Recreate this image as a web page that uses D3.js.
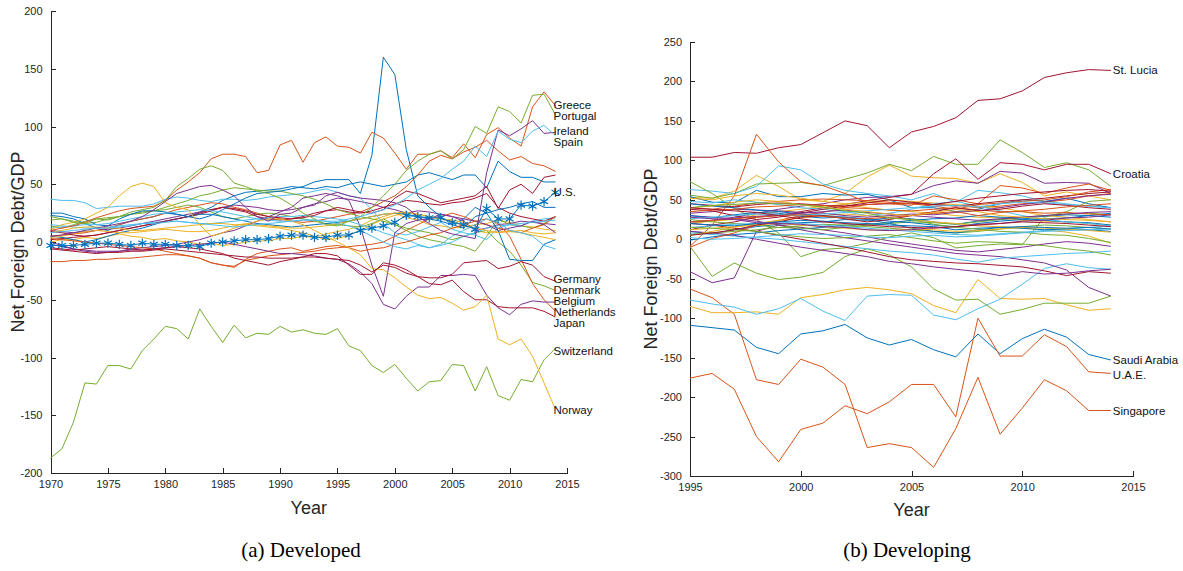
<!DOCTYPE html>
<html>
<head>
<meta charset="utf-8">
<title>Net Foreign Debt/GDP</title>
<script src="https://cdn.jsdelivr.net/npm/d3@7"></script>
<style>
  body { margin: 0; background: #fff; }
  svg { display: block; font-family: 'Liberation Sans', Arial, Helvetica, sans-serif; }
  .axis path, .axis line { stroke: #262626; shape-rendering: crispEdges; }
  .axis text { fill: #262626; font-size: 11px; }
  .series { fill: none; stroke-width: 1; }
  .marker { fill: none; stroke-width: 1.2; }
  .label { font-size: 11.5px; fill: #111; }
  .title { font-size: 18px; fill: #262626; }
  .caption { font-family: 'Liberation Serif', 'DejaVu Serif', serif; font-size: 21px; fill: #000; }
</style>
</head>
<body>
<div id="main"></div>
<script>
'use strict';
// - - - - - - - - - -

// data: developed, 1970-2014
const devFirstYear = 1970;
const devXTicks = [1970, 1975, 1980, 1985, 1990, 1995, 2000, 2005, 2010, 2015];
const devYTicks = [-200, -150, -100, -50, 0, 50, 100, 150, 200];

// plotting order follows the colour cycle (blue, orange, yellow, purple, green, light blue, dark red)
const devNames = [
  '', '', '', '', '', '', '',
  '', '', '', '', 'Denmark', '', '',
  '', 'Netherlands', '', 'Belgium', 'Switzerland', '', 'Japan',
  'U.S.', 'Greece', 'Norway', 'Ireland', 'Portugal', 'Spain', 'Germany'
];

const devValues = [
  // round 1
  [23,22,20,16,12, 10,15,18,20,22, 25,24,22,26,30, 36,40,43,44,45, 46,48,47,46,48, 47,50,52,50,48, 50,52,58,60,57, 54,58,58,47,70, 61,56,56,52,52],
  [5,6,7,8,10, 12,15,18,20,22, 25,28,30,32,34, 33,30,28,25,22, 20,18,17,18,20, 22,24,26,30,35, 40,48,58,70,75, 72,78,82,88,79, 71,74,68,66,61],
  [0,2,2,4,3, 5,7,5,4,2, 3,1,0,-2,-1, -3,-2,0,1,1, 3,3,5,4,7, 9,11,14,19,22, 25,21,19,15,14, 12,13,15,16,19, 17,14,13,11,10],
  [10,9,8,9,10, 11,12,14,16,18, 20,22,24,26,28, 30,32,31,30,28, 27,28,30,33,35, 38,37,35,33,30, 28,25,27,26,24, 22,18,10,12,15, 16,18,17,16,15],
  [14,12,15,18,20, 21,22,24,25,27, 28,30,32,30,26, 22,20,22,24,25, 24,22,20,18,16, 15,14,13,16,20, 15,10,5,2,0, -2,-4,-8,5,20, 15,14,12,16,22],
  [37,36,36,34,29, 30,31,31,31,33, 37,39,38,36,35, 37,37,36,37,39, 40,41,42,44,46, 43,40,38,28,16, 8,6,9,13,17, 11,8,6,2,12, 15,14,18,20,21],
  [2,3,4,5,6, 8,10,12,14,16, 18,20,22,24,27, 30,28,26,22,20, 19,20,22,25,27, 28,26,25,27,30, 33,36,35,33,32, 34,35,38,42,30, 25,22,20,18,22],
  // round 2
  [5,4,2,0,2, 5,8,10,12,15, 18,20,22,24,24, 22,20,18,16,15, 14,13,14,15,16, 17,18,20,22,24, 25,24,22,20,18, 15,20,30,25,28, 30,33,35,30,30],
  [-17,-17,-16,-16,-15, -15,-14,-14,-13,-12, -11,-11,-12,-14,-18, -20,-21,-16,-14,-12, -11,-10,-9,-8,-6, -5,-4,-3,-2,0, 5,10,15,20,22, 25,22,18,15,12, 10,8,12,15,22],
  [4,5,7,9,10, 9,8,8,9,10, 11,10,9,9,10, 12,14,16,15,14, 13,12,12,13,14, 16,18,20,22,24, 25,26,24,22,20, 19,17,10,8,9, 9,10,8,7,8],
  [0,-3,-6,-8,-9, -9,-8,-6,-5,-4, -3,-2,0,2,5, 8,10,14,18,22, 26,30,38,40,42, 40,36,13,-20,-47, 8,16,19,20,24, 22,20,18,15,10, 12,14,18,15,8],
  [22,20,18,16,17, 20,22,24,26,27, 30,33,36,40,42, 45,47,46,45,44, 44,42,40,37,33, 28,25,22,20,18, 15,12,10,8,5, 2,5,8,10,0, -8,-20,-35,-38,-42],
  [15,14,13,12,12, 13,14,15,16,17, 18,18,17,16,16, 17,18,19,20,21, 22,22,23,22,21, 20,18,15,12,8, 5,2,-2,-5,-3, 0,5,8,12,14, 15,16,17,18,19],
  [9,8,6,5,6, 8,10,12,14,16, 18,20,22,25,28, 30,29,27,24,22, 21,20,21,23,27, 30,28,26,25,28, 38,44,42,38,34, 36,38,40,48,29, 45,50,42,56,58],
  // round 3
  [25,25,22,20,15, 14,20,24,27,27, 26,24,22,20,23, 28,33,38,42,43, 44,46,48,52,54, 54,54,42,75,160, 145,80,40,30,22, 15,12,22,25,10, -15,-16,-16,-2,2],
  [3,2,1,0,-1, -2,-3,-4,-5,-6, -8,-10,-12,-14,-18, -20,-22,-15,-10,-8, -6,-5,-8,-6,-4, -3,-5,-8,-6,-5, -2,0,3,6,8, 12,15,18,20,16, 5,-15,-36,-50,-60],
  [8,10,12,13,13, 12,12,10,10,11, 12,13,14,15,16, 16,15,15,14,13, 12,10,8,5,2, 3,6,10,15,20, 23,25,24,22,20, 18,14,12,10,8, 9,8,6,4,2],
  [-2,-4,-6,-7,-8, -8,-8,-7,-7,-6, -5,-4,-3,-2,-1, 0,-2,-4,-6,-8, -10,-10,-11,-12,-14, -15,-19,-26,-36,-54, -58,-47,-39,-39,-29, -29,-28,-29,-46,-57, -63,-54,-51,-52,-52],
  [-187,-179,-156,-122,-123, -107,-107,-110,-94,-84, -73,-75,-84,-58,-73, -87,-72,-83,-79,-80, -73,-78,-76,-79,-80, -75,-90,-94,-107,-113, -106,-118,-129,-121,-120, -106,-107,-129,-108,-133, -137,-119,-121,-102,-92],
  [12,13,14,15,15, 16,18,20,22,24, 25,26,27,28,27, 26,24,22,20,19, 18,18,19,19,18, 16,14,10,5,0, -4,-6,-3,-5,-2, 5,10,15,20,17, 10,8,5,-3,-6],
  [-5,-6,-7,-6,-5, -4,-5,-6,-7,-6, -5,-4,-5,-6,-8, -10,-14,-16,-18,-20, -17,-15,-13,-10,-10, -12,-20,-28,-28,-18, -20,-24,-30,-36,-37, -33,-43,-50,-50,-56, -57,-57,-57,-60,-65],
  // round 4
  [-3,-3,-3,-2,-1, -1,-2,-3,-1,-2, -2,-3,-3,-4,-1, 0,1,2,2,3, 5,6,6,4,4, 6,6,10,12,14, 17,23,22,21,21, 17,15,11,29,20, 20,32,31,35,43],
  [10,12,14,17,21, 24,27,29,30,31, 36,45,52,60,72, 76,76,74,60,62, 84,88,69,86,91, 83,82,77,95,90, 77,63,76,76,79, 73,85,73,93,99, 90,83,117,130,118],
  [11,15,17,20,25, 30,40,48,51,48, 34,30,28,15,5, 8,12,15,18,20, 20,18,15,10,5, 0,-5,-11,-23,-24, -31,-39,-46,-49,-48, -53,-59,-56,-46,-84, -89,-84,-99,-122,-145],
  [5,6,8,10,12, 14,16,18,22,28, 35,42,45,48,49, 45,40,30,22,18, 24,25,30,32,40, 43,40,38,37,36, 34,30,22,16,10, 7,5,3,60,97, 92,98,105,94,95],
  [19,20,17,16,20, 19,22,26,28,30, 36,48,55,63,66, 62,51,48,44,42, 38,32,25,20,15, 14,18,22,30,40, 50,62,70,76,79, 72,80,100,94,117, 113,103,127,128,110],
  [8,9,10,11,12, 12,13,14,16,16, 17,18,17,16,15, 14,13,14,15,16, 17,18,19,19,18, 18,20,22,25,28, 32,38,45,50,55, 63,70,83,74,96, 89,86,96,101,92],
  [-6,-7,-8,-9,-10, -9,-9,-8,-8,-7, -6,-7,-8,-9,-10, -11,-12,-13,-13,-14, -14,-14,-13,-13,-14, -15,-16,-20,-26,-20, -22,-27,-30,-31,-31, -28,-18,-17,-16,-23, -21,-17,-20,-30,-34]
];

// data: developing, 1995-2014
const dvgFirstYear = 1995;
const dvgXTicks = [1995, 2000, 2005, 2010, 2015];
const dvgYTicks = [-300, -250, -200, -150, -100, -50, 0, 50, 100, 150, 200, 250];

const dvgNames = [
  'Saudi Arabia', 'U.A.E.', '', '', '', '', 'St. Lucia',
  '', 'Singapore', '', '', '', '', 'Croatia',
  '', '', '', '', '', '', '',
  '', '', '', '', '', '', '',
  '', '', '', '', '', '', '',
  '', '', '', '', '', '', '',
  '', '', '', '', '', '', ''
];

const dvgValues = [
  // round 1
  [-109,-112,-115,-137,-145,-120,-116,-108,-125,-134,-127,-140,-149,-120,-145,-126,-114,-124,-146,-153],
  [-176,-170,-190,-250,-282,-241,-233,-211,-221,-206,-184,-184,-225,-100,-148,-148,-121,-136,-168,-170],
  [53,52,61,81,67,50,48,58,79,94,80,78,77,71,83,72,55,60,55,50],
  [20,24,28,33,38,42,45,50,53,54,57,68,74,71,86,84,71,72,71,58],
  [56,52,58,70,71,72,68,76,84,95,87,105,95,95,126,110,91,97,88,67],
  [63,61,58,67,93,88,70,62,58,55,50,58,47,62,59,55,48,45,42,40],
  [104,104,110,109,116,120,135,150,144,116,136,143,154,176,178,188,205,211,215,214],
  // round 2
  [54,47,46,62,54,54,58,56,57,50,40,40,35,38,45,50,48,52,45,40],
  [-63,-74,-95,-178,-184,-152,-162,-184,-264,-259,-264,-289,-240,-175,-247,-214,-178,-192,-217,-217],
  [-85,-93,-93,-92,-95,-74,-70,-64,-61,-64,-69,-84,-93,-51,-75,-76,-75,-83,-90,-88],
  [-41,-55,-49,10,18,15,12,8,3,-2,-6,-10,-14,-16,-13,-10,-6,-3,-5,-9],
  [73,58,39,25,8,-22,-13,-11,-5,3,8,2,-11,-8,-6,-7,28,35,48,50],
  [-77,-82,-86,-95,-88,-75,-91,-103,-72,-70,-71,-96,-102,-88,-76,-57,-37,-31,-36,-38],
  [12,18,22,28,30,35,40,44,49,53,57,83,102,76,97,95,88,95,95,83],
  // round 3
  [10,7,12,16,19,21,22,25,24,27,26,22,19,23,25,27,29,31,30,28],
  [-9,18,55,133,98,73,68,58,47,45,43,55,50,45,68,65,58,65,70,62],
  [20,23,25,31,35,38,42,44,40,37,35,33,30,28,27,24,23,22,20,18],
  [30,28,26,23,18,12,7,2,-2,-6,-10,-14,-18,-20,-22,-26,-30,-39,-61,-72],
  [-9,-47,-30,-43,-51,-48,-42,-22,-12,-20,-35,-63,-77,-76,-95,-89,-81,-81,-81,-72],
  [8,6,4,2,0,-3,-6,-9,-12,-15,-17,-20,-25,-29,-24,-22,-20,-18,-17,-15],
  [20,18,14,10,5,0,-5,-10,-16,-22,-26,-28,-30,-31,-33,-35,-40,-46,-41,-43],
  // round 4
  [-1,3,6,8,11,13,15,18,19,21,24,26,27,30,28,27,24,22,21,18],
  [40,38,42,46,48,50,51,50,49,47,45,44,43,40,42,45,47,50,55,58],
  [52,50,55,58,56,52,48,45,47,50,48,46,44,42,40,35,30,28,25,22],
  [10,8,5,0,-5,-10,-14,-18,-22,-28,-31,-35,-38,-41,-46,-41,-44,-43,-40,-38],
  [25,22,20,18,15,14,12,15,18,20,22,21,19,22,25,28,30,32,33,31],
  [48,46,50,47,44,40,38,35,30,33,38,45,48,42,36,30,25,22,20,17],
  [45,43,41,44,46,45,43,42,44,45,46,44,42,45,48,50,52,55,58,60],
  // round 5
  [30,27,31,34,33,29,27,28,26,23,21,18,16,20,23,25,26,27,30,33],
  [-10,1,8,18,24,30,34,40,44,46,45,42,38,44,46,48,50,54,60,63],
  [5,10,15,20,24,27,30,32,30,27,25,22,20,17,16,14,12,9,4,-5],
  [33,35,38,37,36,34,33,30,28,30,32,31,34,36,40,44,47,52,55,57],
  [6,8,10,12,15,17,19,18,16,14,12,10,8,10,13,16,18,17,15,13],
  [15,17,19,20,22,20,18,16,14,12,10,8,6,5,7,9,11,13,15,17],
  [38,36,30,25,28,33,38,42,46,50,47,44,48,52,55,58,60,62,63,61],
  // round 6
  [45,42,40,37,35,32,30,28,25,20,14,10,8,12,15,14,12,13,12,10],
  [35,37,38,41,42,44,43,40,39,37,36,38,40,37,35,35,33,34,32,31],
  [12,14,16,18,20,18,16,14,12,11,13,12,10,11,13,15,14,13,11,9],
  [22,24,27,29,31,33,35,37,34,32,30,28,26,24,26,28,30,32,34,35],
  [15,14,12,10,6,3,1,2,4,6,2,-2,-5,-3,-4,-6,-8,-12,-15,-20],
  [26,28,30,32,31,30,32,34,36,38,40,42,43,41,45,47,46,44,42,40],
  [5,8,12,18,22,28,30,26,22,25,30,35,40,36,38,42,45,43,40,38],
  // round 7
  [20,18,17,20,22,24,23,21,20,18,17,16,12,14,15,16,15,14,15,13],
  [22,24,26,28,30,31,29,27,26,28,30,33,35,30,34,36,38,41,43,45],
  [40,42,47,50,48,44,40,38,35,32,30,34,38,35,30,28,26,25,24,22],
  [28,26,25,21,20,19,16,15,12,11,12,15,16,19,20,23,24,27,28,31],
  [40,43,44,46,45,44,41,36,33,27,25,19,15,13,10,9,6,5,1,-4],
  [2,0,1,3,5,7,6,5,3,2,4,5,3,4,6,8,10,11,12,13],
  [40,38,36,34,30,26,22,20,18,16,15,14,16,18,20,22,21,20,18,16]
];

// configuration
let
  svg = undefined,
  canvas = {},
  panels = {},
  labelAt = {};

const colors = ['#0072BD', '#D95319', '#EDB120', '#7E2F8E', '#77AC30', '#4DBEEE', '#A2142F'];

canvas = {
  context: '#main',
  width: 1183,
  height: 571
};

panels = {
  dev: {
    left: 50.5, right: 567, top: 11, bottom: 473,
    xDomain: [1970, 2015], yDomain: [-200, 200], labelDx: -2,
    yTitleX: 24, xTitleY: 514, caption: '(a) Developed', captionX: 301
  },
  dvg: {
    left: 690, right: 1133, top: 42, bottom: 476,
    xDomain: [1995, 2015], yDomain: [-300, 250], labelDx: 2,
    yTitleX: 657, xTitleY: 516, caption: '(b) Developing', captionX: 907
  }
};

// label centres (data units), spread apart so they do not overlap
labelAt = {
  'Greece': 119, 'Portugal': 109, 'Ireland': 96, 'Spain': 87, 'U.S.': 43,
  'Germany': -32, 'Denmark': -41.5, 'Belgium': -51, 'Netherlands': -60.5, 'Japan': -70,
  'Switzerland': -94, 'Norway': -145,
  'St. Lucia': 214, 'Croatia': 83, 'Saudi Arabia': -153, 'U.A.E.': -172, 'Singapore': -218
};

// methods
function setCanvas(domContext) {
  svg = d3.select(domContext)
    .append('svg')
    .attr('width', canvas.width)
    .attr('height', canvas.height);

  svg.append('rect')
    .attr('width', canvas.width)
    .attr('height', canvas.height)
    .attr('fill', '#fff');
}

function drawPanel(p, firstYear, names, values, xTicks, yTicks) {
  let
    xScale = d3.scaleLinear().domain(p.xDomain).range([p.left, p.right]),
    yScale = d3.scaleLinear().domain(p.yDomain).range([p.bottom, p.top]),
    g = svg.append('g');

  // axes, ticks pointing inward like matlab
  g.append('g')
    .attr('class', 'axis')
    .attr('transform', 'translate(0,' + p.bottom + ')')
    .call(d3.axisBottom(xScale)
      .tickValues(xTicks)
      .tickFormat(d => String(d))
      .tickSizeInner(-5)
      .tickSizeOuter(0)
      .tickPadding(7));

  g.append('g')
    .attr('class', 'axis')
    .attr('transform', 'translate(' + p.left + ',0)')
    .call(d3.axisLeft(yScale)
      .tickValues(yTicks)
      .tickFormat(d => String(d))
      .tickSizeInner(-5)
      .tickSizeOuter(0)
      .tickPadding(8));

  let line = d3.line()
    .x((d, i) => xScale(firstYear + i))
    .y(d => yScale(d));

  g.selectAll('path.series')
    .data(values)
    .enter()
    .append('path')
    .attr('class', 'series')
    .attr('stroke', (d, i) => colors[i % colors.length])
    .attr('d', line);

  // U.S. gets asterisk markers
  let usIndex = names.indexOf('U.S.');
  if (usIndex >= 0) {
    let star = d3.symbol().type(d3.symbolAsterisk).size(60);
    g.selectAll('path.marker')
      .data(values[usIndex])
      .enter()
      .append('path')
      .attr('class', 'marker')
      .attr('stroke', colors[usIndex % colors.length])
      .attr('transform', (d, i) => 'translate(' + xScale(firstYear + i) + ',' + yScale(d) + ')')
      .attr('d', star);
  }

  // end labels
  names.forEach(function (name, i) {
    if (!name) return;
    let last = values[i].length - 1;
    g.append('text')
      .attr('class', 'label')
      .attr('x', xScale(firstYear + last) + p.labelDx)
      .attr('y', yScale(labelAt[name]))
      .attr('dy', '0.35em')
      .text(name);
  });

  // titles
  g.append('text')
    .attr('class', 'title')
    .attr('x', (p.left + p.right) / 2)
    .attr('y', p.xTitleY)
    .attr('text-anchor', 'middle')
    .text('Year');

  g.append('text')
    .attr('class', 'title')
    .attr('transform', 'translate(' + p.yTitleX + ',' + ((p.top + p.bottom) / 2) + ') rotate(-90)')
    .attr('text-anchor', 'middle')
    .text('Net Foreign Debt/GDP');

  g.append('text')
    .attr('class', 'caption')
    .attr('x', p.captionX)
    .attr('y', 557)
    .attr('text-anchor', 'middle')
    .text(p.caption);
}

// control
setCanvas(canvas.context);
drawPanel(panels.dev, devFirstYear, devNames, devValues, devXTicks, devYTicks);
drawPanel(panels.dvg, dvgFirstYear, dvgNames, dvgValues, dvgXTicks, dvgYTicks);

// - - - - - - - - - -
</script>
</body>
</html>
